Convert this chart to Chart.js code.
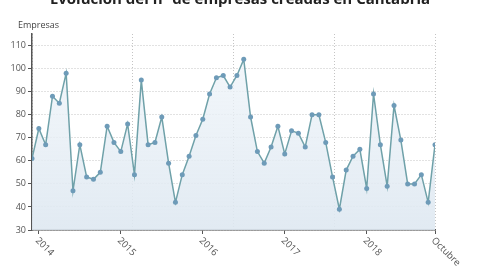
<!DOCTYPE html>
<html>
<head>
<meta charset="utf-8">
<script src="https://cdn.jsdelivr.net/npm/chart.js@4"></script>
<style>
body { margin: 0; background: #fff; overflow: hidden; }
#wrap { position: absolute; left: 0; top: -18px; width: 480px; height: 288px; }
</style>
</head>
<body>
<div id="wrap"><canvas id="canvas"></canvas></div>
<script>
// empresas creadas por mes, dic 2013 - nov 2018
var empresas = [61, 74, 67, 88, 85, 98, 47, 67, 53, 52, 55, 75,
                68, 64, 76, 54, 95, 67, 68, 79, 59, 42, 54, 62,
                71, 78, 89, 96, 97, 92, 97, 104, 79, 64, 59, 66,
                75, 63, 73, 72, 66, 80, 80, 68, 53, 39, 56, 62,
                65, 48, 89, 67, 49, 84, 69, 50, 50, 54, 42, 67];

var etiquetas = ['2014', '2015', '2016', '2017', '2018', 'Octubre'];
var mesEtiqueta = [1, 13, 25, 37, 49, 59];   // mes al que va cada etiqueta
var yTicks = [30, 40, 50, 60, 70, 80, 90, 100, 110];

var puntos = empresas.map(function(v, i) { return { x: i, y: v }; });
var ultimo = empresas.length - 1;

var rotulos = {
    id: 'rotulos',
    afterDraw: function(chart) {
        var ctx = chart.ctx;
        var x = chart.scales.x;
        var area = chart.chartArea;
        ctx.save();
        ctx.fillStyle = '#555';
        ctx.font = '9.5px "Open Sans"';
        etiquetas.forEach(function(t, k) {
            var px = x.getPixelForValue(mesEtiqueta[k]);
            ctx.save();
            ctx.translate(px - 2, area.bottom + 9);
            ctx.rotate(Math.PI / 4);
            ctx.textAlign = 'left';
            ctx.textBaseline = 'middle';
            ctx.fillText(t, 0, 0);
            ctx.restore();
        });
        ctx.fillStyle = '#444';
        ctx.font = '9px "Open Sans"';
        ctx.textAlign = 'left';
        ctx.textBaseline = 'middle';
        ctx.fillText('Empresas', 18, area.top - 9);
        ctx.restore();
    }
};

window.onload = function() {
    var ctx = document.getElementById('canvas').getContext('2d');
    window.miGrafico = new Chart(ctx, {
        type: 'line',
        data: {
            datasets: [{
                label: 'Empresas',
                data: puntos,
                borderColor: '#6fa1a9',
                borderWidth: 1.5,
                tension: 0,
                pointRadius: 2.5,
                pointBorderWidth: 0,
                pointBackgroundColor: '#6e9bb8',
                fill: 'start',
                backgroundColor: function(c) {
                    var a = c.chart.chartArea;
                    if (!a) return 'rgba(215,228,240,0.6)';
                    var g = c.chart.ctx.createLinearGradient(0, a.top, 0, a.bottom);
                    g.addColorStop(0, 'rgba(240,245,250,0.7)');
                    g.addColorStop(1, 'rgba(222,232,241,0.9)');
                    return g;
                }
            }]
        },
        options: {
            responsive: true,
            maintainAspectRatio: false,
            animation: false,
            plugins: {
                legend: { display: false },
                tooltip: { enabled: false },
                title: {
                    display: true,
                    text: 'Evolución del nº de empresas creadas en Cantabria',
                    color: '#222',
                    font: { size: 15, weight: 'bold', family: 'Open Sans' },
                    padding: { top: 9, bottom: 25 }
                }
            },
            scales: {
                x: {
                    type: 'linear', position: 'bottom', min: 0, max: ultimo,
                    afterBuildTicks: function(s) { s.ticks = mesEtiqueta.map(function(v) { return { value: v }; }); },
                    afterFit: function(s) { s.height = 40; },
                    ticks: { display: false },
                    grid: { drawOnChartArea: false, tickLength: 4, tickColor: '#555' },
                    border: { color: '#555', width: 1.5 }
                },
                xg: {
                    type: 'linear', position: 'bottom', min: 0, max: ultimo,
                    afterBuildTicks: function(s) { s.ticks = [0, 1, 2, 3, 4].map(function(k) { return { value: ultimo * k / 4 }; }); },
                    afterFit: function(s) { s.height = 0; },
                    ticks: { display: false },
                    grid: { color: '#c4c4c4', drawTicks: false },
                    border: { display: false, dash: [1, 2] }
                },
                y: {
                    min: 30, max: 115,
                    afterBuildTicks: function(s) { s.ticks = yTicks.map(function(v) { return { value: v }; }); },
                    afterFit: function(s) { s.width = 32; },
                    ticks: { color: '#555', font: { size: 9, family: 'Open Sans' }, padding: 2 },
                    grid: { color: '#c4c4c4', tickLength: 4, tickColor: '#555' },
                    border: { color: '#555', width: 1.5, dash: [1, 2] }
                },
                margen: {
                    position: 'right', display: true,
                    afterFit: function(s) { s.width = 45; },
                    ticks: { display: false },
                    grid: { display: false },
                    border: { display: false }
                }
            }
        },
        plugins: [rotulos]
    });
};
</script>
</body>
</html>
